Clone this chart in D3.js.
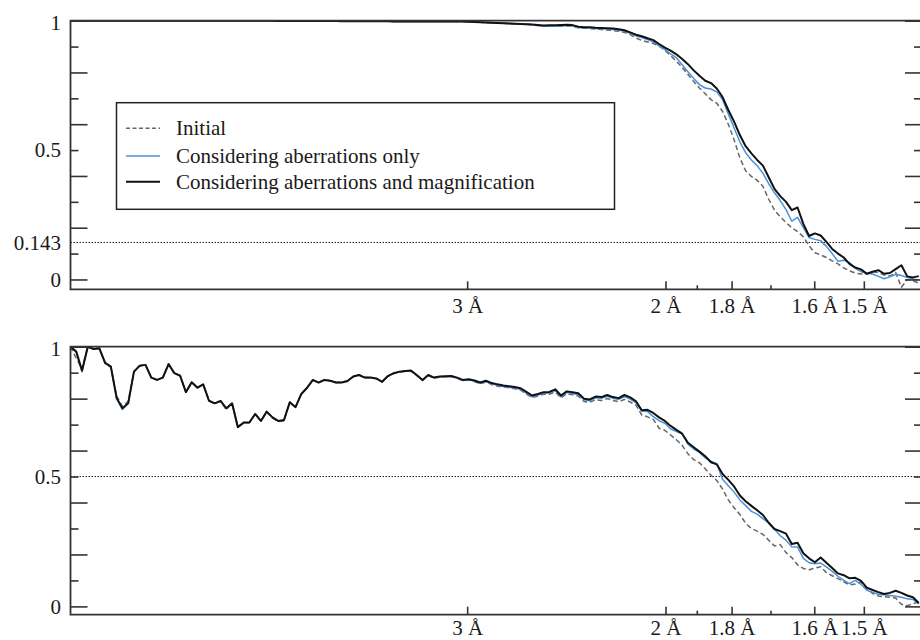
<!DOCTYPE html>
<html>
<head>
<meta charset="utf-8">
<script src="https://cdn.jsdelivr.net/npm/d3@7"></script>
<style>
  body { margin: 0; background: #fff; }
  svg text { font-family: "Liberation Serif", "Times New Roman", Times, serif; font-size: 21px; fill: #1a1a1a; }
</style>
</head>
<body>
<div id="chart"></div>
<script>
// Fourier shell spacing (1/Å); shell i sits at i * shellStep
var shellStep = 0.004849;

// Top panel FSC curves
var topInitial = [
  1, 1, 1, 1, 1, 1, 1, 1, 1, 1,
  1, 1, 1, 1, 1, 1, 1, 1, 1, 1,
  1, 1, 1, 1, 1, 1, 1, 1, 1, 1,
  1, 1, 1, 1, 1, 1, 0.999, 0.999, 0.999, 0.999,
  0.999, 0.999, 0.999, 0.999, 0.999, 0.999, 0.999, 0.998, 0.998, 0.998,
  0.998, 0.998, 0.998, 0.998, 0.998, 0.998, 0.997, 0.997, 0.997, 0.997,
  0.997, 0.997, 0.997, 0.997, 0.997, 0.997, 0.997, 0.997, 0.997, 0.996,
  0.995, 0.994, 0.993, 0.992, 0.991, 0.990, 0.989, 0.988, 0.987, 0.986,
  0.984, 0.981, 0.979, 0.979, 0.979, 0.979, 0.980, 0.978, 0.973, 0.971,
  0.970, 0.968, 0.966, 0.964, 0.962, 0.959, 0.955, 0.946, 0.933, 0.924,
  0.918, 0.912, 0.902, 0.886, 0.865, 0.843, 0.820, 0.792, 0.765, 0.740,
  0.718, 0.695, 0.681, 0.650, 0.600, 0.540, 0.470, 0.420, 0.398, 0.383,
  0.360, 0.310, 0.268, 0.242, 0.220, 0.200, 0.185, 0.165, 0.130, 0.103,
  0.095, 0.085, 0.072, 0.060, 0.045, 0.033, 0.025, 0.021, 0.021, 0.030,
  0.027, 0.017, 0.013, 0.027, -0.030, 0.000, -0.005, -0.014
];
var topAberr = [
  1, 1, 1, 1, 1, 1, 1, 1, 1, 1,
  1, 1, 1, 1, 1, 1, 1, 1, 1, 1,
  1, 1, 1, 1, 1, 1, 1, 1, 1, 1,
  1, 1, 1, 1, 1, 1, 0.999, 0.999, 0.999, 0.999,
  0.999, 0.999, 0.999, 0.999, 0.999, 0.999, 0.999, 0.998, 0.998, 0.998,
  0.998, 0.998, 0.998, 0.998, 0.998, 0.998, 0.997, 0.997, 0.997, 0.997,
  0.997, 0.997, 0.997, 0.997, 0.997, 0.997, 0.997, 0.997, 0.997, 0.996,
  0.995, 0.994, 0.993, 0.992, 0.991, 0.990, 0.989, 0.988, 0.987, 0.986,
  0.984, 0.981, 0.979, 0.979, 0.979, 0.980, 0.981, 0.980, 0.974, 0.972,
  0.972, 0.970, 0.969, 0.968, 0.966, 0.963, 0.960, 0.951, 0.942, 0.935,
  0.927, 0.918, 0.903, 0.888, 0.872, 0.857, 0.830, 0.803, 0.777, 0.753,
  0.740, 0.736, 0.725, 0.695, 0.640, 0.585, 0.532, 0.490, 0.462, 0.440,
  0.410, 0.370, 0.335, 0.305, 0.270, 0.225, 0.240, 0.200, 0.162, 0.155,
  0.150, 0.128, 0.100, 0.070, 0.074, 0.065, 0.043, 0.030, 0.024, 0.021,
  0.012, 0.003, 0.010, 0.020, 0.015, 0.008, 0.002, -0.002
];
var topAberrMag = [
  1, 1, 1, 1, 1, 1, 1, 1, 1, 1,
  1, 1, 1, 1, 1, 1, 1, 1, 1, 1,
  1, 1, 1, 1, 1, 1, 1, 1, 1, 1,
  1, 1, 1, 1, 1, 1, 0.999, 0.999, 0.999, 0.999,
  0.999, 0.999, 0.999, 0.999, 0.999, 0.999, 0.999, 0.998, 0.998, 0.998,
  0.998, 0.998, 0.998, 0.998, 0.998, 0.998, 0.997, 0.997, 0.997, 0.997,
  0.997, 0.997, 0.997, 0.997, 0.997, 0.997, 0.997, 0.997, 0.997, 0.996,
  0.995, 0.994, 0.993, 0.992, 0.991, 0.990, 0.989, 0.988, 0.987, 0.986,
  0.985, 0.983, 0.981, 0.982, 0.982, 0.983, 0.984, 0.983, 0.977, 0.975,
  0.975, 0.973, 0.972, 0.971, 0.970, 0.967, 0.963, 0.955, 0.946, 0.940,
  0.932, 0.925, 0.910, 0.896, 0.884, 0.870, 0.852, 0.832, 0.808, 0.787,
  0.768, 0.759, 0.738, 0.705, 0.655, 0.610, 0.558, 0.515, 0.487, 0.462,
  0.440, 0.395, 0.350, 0.322, 0.300, 0.268, 0.278, 0.215, 0.168, 0.178,
  0.170, 0.145, 0.118, 0.100, 0.085, 0.060, 0.046, 0.039, 0.022, 0.030,
  0.036, 0.022, 0.025, 0.040, 0.055, 0.012, 0.008, 0.013
];

// Bottom panel FSC curves
var bottomInitial = [
  1.0, 0.955, 0.915, 1.0, 0.991, 0.994, 0.936, 0.921, 0.810, 0.770,
  0.790, 0.904, 0.927, 0.930, 0.881, 0.872, 0.881, 0.933, 0.898, 0.888,
  0.825, 0.863, 0.842, 0.855, 0.792, 0.782, 0.791, 0.757, 0.782, 0.695,
  0.705, 0.708, 0.741, 0.714, 0.748, 0.726, 0.712, 0.714, 0.786, 0.767,
  0.818, 0.842, 0.870, 0.862, 0.872, 0.869, 0.862, 0.862, 0.868, 0.885,
  0.891, 0.881, 0.880, 0.877, 0.864, 0.886, 0.897, 0.903, 0.905, 0.907,
  0.889, 0.870, 0.889, 0.879, 0.883, 0.884, 0.885, 0.878, 0.869, 0.872,
  0.866, 0.857, 0.864, 0.854, 0.848, 0.845, 0.842, 0.838, 0.833, 0.818,
  0.804, 0.810, 0.817, 0.817, 0.826, 0.803, 0.819, 0.815, 0.810, 0.789,
  0.786, 0.796, 0.793, 0.800, 0.793, 0.788, 0.797, 0.787, 0.775, 0.737,
  0.730, 0.720, 0.686, 0.678, 0.660, 0.642, 0.620, 0.588, 0.565, 0.553,
  0.530, 0.505, 0.485, 0.452, 0.410, 0.380, 0.354, 0.320, 0.300, 0.290,
  0.277, 0.255, 0.233, 0.238, 0.207, 0.188, 0.160, 0.146, 0.141, 0.147,
  0.153, 0.130, 0.118, 0.107, 0.095, 0.083, 0.086, 0.094, 0.070, 0.050,
  0.040, 0.037, 0.035, 0.032, 0.008, 0.003, 0.010, 0.018
];
var bottomAberr = [
  1.0, 0.979, 0.903, 1.0, 0.991, 0.994, 0.938, 0.921, 0.800, 0.758,
  0.782, 0.904, 0.927, 0.930, 0.881, 0.872, 0.881, 0.933, 0.898, 0.888,
  0.825, 0.863, 0.842, 0.855, 0.792, 0.782, 0.791, 0.761, 0.782, 0.690,
  0.706, 0.708, 0.741, 0.714, 0.750, 0.728, 0.713, 0.717, 0.786, 0.767,
  0.818, 0.842, 0.872, 0.862, 0.872, 0.869, 0.862, 0.862, 0.868, 0.885,
  0.891, 0.881, 0.880, 0.877, 0.864, 0.886, 0.897, 0.903, 0.905, 0.907,
  0.890, 0.871, 0.890, 0.880, 0.884, 0.885, 0.886, 0.879, 0.870, 0.873,
  0.868, 0.859, 0.866, 0.857, 0.851, 0.847, 0.844, 0.841, 0.836, 0.821,
  0.807, 0.814, 0.821, 0.822, 0.831, 0.807, 0.824, 0.820, 0.816, 0.796,
  0.792, 0.803, 0.801, 0.809, 0.801, 0.797, 0.808, 0.798, 0.785, 0.752,
  0.750, 0.731, 0.715, 0.705, 0.683, 0.673, 0.665, 0.625, 0.606, 0.593,
  0.572, 0.559, 0.549, 0.490, 0.465, 0.440, 0.410, 0.388, 0.366, 0.355,
  0.338, 0.320, 0.297, 0.272, 0.255, 0.230, 0.229, 0.185, 0.168, 0.164,
  0.167, 0.152, 0.135, 0.116, 0.100, 0.088, 0.100, 0.085, 0.062, 0.054,
  0.047, 0.045, 0.042, 0.039, 0.035, 0.029, 0.027, 0.010
];
var bottomAberrMag = [
  1.0, 0.981, 0.908, 1.0, 0.991, 0.994, 0.938, 0.923, 0.802, 0.763,
  0.782, 0.904, 0.927, 0.930, 0.881, 0.872, 0.881, 0.933, 0.898, 0.888,
  0.825, 0.863, 0.842, 0.855, 0.792, 0.782, 0.791, 0.763, 0.782, 0.690,
  0.708, 0.708, 0.741, 0.714, 0.750, 0.728, 0.714, 0.718, 0.786, 0.767,
  0.818, 0.842, 0.872, 0.862, 0.872, 0.869, 0.862, 0.862, 0.868, 0.885,
  0.891, 0.881, 0.881, 0.878, 0.865, 0.887, 0.898, 0.904, 0.906, 0.908,
  0.891, 0.872, 0.891, 0.881, 0.885, 0.886, 0.887, 0.881, 0.872, 0.875,
  0.870, 0.862, 0.869, 0.860, 0.855, 0.851, 0.848, 0.845, 0.840, 0.826,
  0.812, 0.818, 0.825, 0.826, 0.836, 0.812, 0.828, 0.825, 0.821, 0.800,
  0.797, 0.808, 0.806, 0.814, 0.806, 0.802, 0.814, 0.805, 0.790, 0.755,
  0.757, 0.745, 0.728, 0.714, 0.695, 0.680, 0.665, 0.630, 0.613, 0.596,
  0.578, 0.555, 0.547, 0.510, 0.487, 0.462, 0.427, 0.405, 0.387, 0.370,
  0.352, 0.322, 0.298, 0.290, 0.280, 0.240, 0.245, 0.205, 0.185, 0.170,
  0.188, 0.168, 0.148, 0.127, 0.120, 0.108, 0.110, 0.098, 0.072, 0.063,
  0.055, 0.048, 0.052, 0.060, 0.052, 0.042, 0.035, 0.013
];

// Axis ticks and labels
var resolutionTicks = [3, 2, 1.8, 1.6, 1.5];   // Å, labelled
var minorResolutionTicks = [1.9, 1.7];          // Å, unlabelled
var maxFrequency = 1 / 1.4;
var topYLabels = [0, 0.143, 0.5, 1];
var bottomYLabels = [0, 0.5, 1];
var topThreshold = 0.143;
var bottomThreshold = 0.5;
var legendLabels = ["Initial", "Considering aberrations only", "Considering aberrations and magnification"];

var width = 920, height = 640;
var left = 70.5, right = 922;
var serif = "'Liberation Serif', 'Times New Roman', Times, serif";

var styles = [
  { color: "#666", width: 1.5, dash: "5,3" },
  { color: "#4a90dc", width: 1.5, dash: null },
  { color: "#111", width: 2, dash: null }
];

var svg = d3.select("#chart").append("svg")
    .attr("width", width)
    .attr("height", height)
    .attr("font-family", serif);

var x = d3.scaleLinear().domain([0, maxFrequency]).range([left, 920.5]);

var tenths = d3.range(0, 11).map(function(i) { return i / 10; });
var majorY = tenths.filter(function(d, i) { return i % 2 === 0; });
var minorY = tenths.filter(function(d, i) { return i % 2 === 1; });

function drawPanel(id, top, bottom, yMin, seriesList, yLabels, threshold, labelPad) {
    var y = d3.scaleLinear().domain([yMin, 1]).range([bottom, top]);
    var g = svg.append("g");

    g.append("clipPath").attr("id", id)
      .append("rect")
      .attr("x", left).attr("y", top)
      .attr("width", right - left).attr("height", bottom - top);

    // threshold line
    g.append("line")
      .attr("x1", left).attr("x2", width)
      .attr("y1", y(threshold)).attr("y2", y(threshold))
      .attr("stroke", "#222")
      .attr("stroke-width", 1)
      .attr("stroke-dasharray", "1.5,1.5");

    var line = d3.line()
      .x(function(d, i) { return x(i * shellStep); })
      .y(function(d) { return y(d); });

    seriesList.forEach(function(values, k) {
        g.append("path")
          .datum(values)
          .attr("clip-path", "url(#" + id + ")")
          .attr("d", line)
          .attr("fill", "none")
          .attr("stroke", styles[k].color)
          .attr("stroke-width", styles[k].width)
          .attr("stroke-dasharray", styles[k].dash)
          .attr("stroke-linejoin", "round");
    });

    // left and right ticks (inward)
    function yTicks(axisFn, xPos, values, size) {
        var a = g.append("g")
          .attr("transform", "translate(" + xPos + ",0)")
          .call(axisFn(y).tickValues(values).tickSize(-size).tickFormat(""));
        a.select(".domain").remove();
        a.selectAll("line").attr("stroke", "#333").attr("stroke-width", 1.6);
    }
    yTicks(d3.axisLeft, left, majorY, 17);
    yTicks(d3.axisLeft, left, minorY, 8);
    yTicks(d3.axisRight, right, majorY, 17);
    yTicks(d3.axisRight, right, minorY, 8);

    // y labels
    var yl = g.append("g")
      .attr("transform", "translate(" + left + ",0)")
      .call(d3.axisLeft(y).tickValues(yLabels).tickSize(0).tickPadding(9.5)
            .tickFormat(function(d) { return String(d); }));
    yl.select(".domain").remove();
    yl.attr("font-size", null).attr("font-family", serif);
    yl.selectAll("text").filter(function(d) { return d === 1; }).attr("dy", "0.42em");

    // bottom ticks
    var xb = g.append("g")
      .attr("transform", "translate(0," + bottom + ")")
      .call(d3.axisBottom(x)
            .tickValues(resolutionTicks.map(function(r) { return 1 / r; }))
            .tickSize(-8).tickPadding(labelPad)
            .tickFormat(function(f) { return d3.format(".2~f")(1 / f) + " Å"; }));
    xb.select(".domain").remove();
    xb.selectAll("line").attr("stroke", "#333").attr("stroke-width", 1.6);
    xb.attr("font-size", null).attr("font-family", serif);

    var xm = g.append("g")
      .attr("transform", "translate(0," + bottom + ")")
      .call(d3.axisBottom(x)
            .tickValues(minorResolutionTicks.map(function(r) { return 1 / r; }))
            .tickSize(-4).tickFormat(""));
    xm.select(".domain").remove();
    xm.selectAll("line").attr("stroke", "#333").attr("stroke-width", 1.6);

    // frame (right side sits just past the canvas)
    g.append("path")
      .attr("d", "M" + right + "," + top + "H" + left + "V" + bottom + "H" + right)
      .attr("fill", "none")
      .attr("stroke", "#333")
      .attr("stroke-width", 1.8);

    return y;
}

drawPanel("clip-top", 20.7, 289.3, -0.038, [topInitial, topAberr, topAberrMag], topYLabels, topThreshold, 8.5);
drawPanel("clip-bottom", 346.7, 614.7, -0.032, [bottomInitial, bottomAberr, bottomAberrMag], bottomYLabels, bottomThreshold, 5.8);

// Legend
var legend = svg.append("g");
legend.append("rect")
  .attr("x", 116.5).attr("y", 102.7)
  .attr("width", 498).attr("height", 106.6)
  .attr("fill", "#fff")
  .attr("stroke", "#222")
  .attr("stroke-width", 1.5);

var legendRows = [128.3, 156, 181.7];
legendLabels.forEach(function(label, k) {
    legend.append("line")
      .attr("x1", 126).attr("x2", 160)
      .attr("y1", legendRows[k]).attr("y2", legendRows[k])
      .attr("stroke", styles[k].color)
      .attr("stroke-width", styles[k].width)
      .attr("stroke-dasharray", k === 0 ? "4,2.5" : null);
    legend.append("text")
      .attr("x", 176)
      .attr("y", legendRows[k] + 7)
      .text(label);
});
</script>
</body>
</html>
